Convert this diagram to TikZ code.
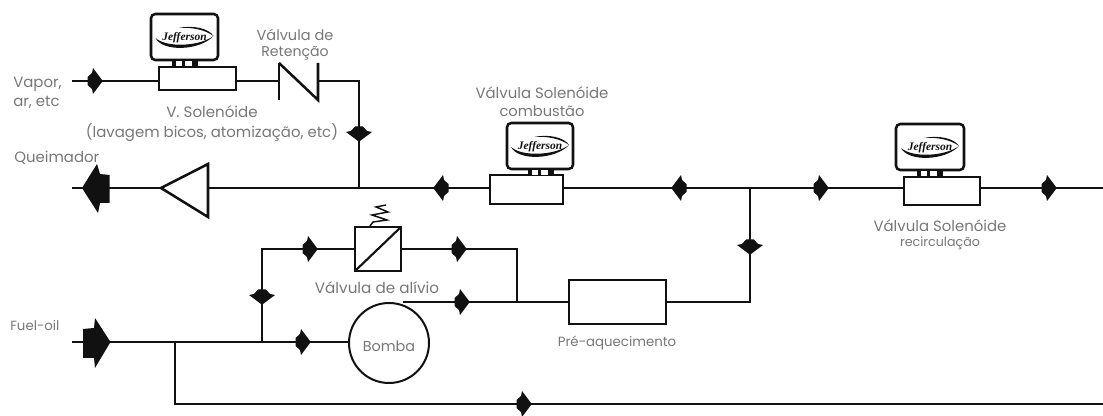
\documentclass[tikz,border=0pt]{standalone}
\usepackage{fontspec}
\setmainfont{Poppins}
\newfontfamily\logofont{Liberation Serif}[BoldItalicFont={* Bold Italic}]
\definecolor{ink}{HTML}{111111}
\definecolor{lab}{HTML}{777777}
\tikzset{
  pipe/.style={draw=ink,line width=1.35pt},
  boxed/.style={draw=ink,line width=1.9pt,fill=white,inner sep=0pt,outer sep=0pt,rectangle},
  monitor/.style={boxed,rounded corners=3.2pt},
  lbl/.style={text=lab,inner sep=0pt,font=\fontsize{#1}{12pt}\selectfont,align=center},
  lbl/.default=11.2pt,
  lbll/.style={lbl=#1,align=left,anchor=west},
  lbll/.default=11.2pt
}
\newcommand{\vmk}[4]{%
  \coordinate (#1) at (#2,#3);
  \fill[ink,shift={(#2,#3)},rotate=#4]
    (-7.5,-4) -- (-3,-8) -- (-2,-13) -- (2.5,-7) -- (7,-1) -- (7,1) -- (2.5,7) -- (-2,13) -- (-3,8) -- (-7.5,4) -- cycle;}
\newcommand{\solv}[7]{%
  \node[boxed,minimum width=#4*0.75pt,minimum height=#5*0.75pt] (#1) at (#2,#3) {};
  \node[monitor,minimum width=#6*0.75pt,minimum height=46*0.75pt] (#1m) at (#7) {};
  \fill[ink] (#1m.south west) ++(21,0) rectangle ++(26,7.5);
  \fill[white] (#1m.south west) ++(24.5,1.2) rectangle ++(6.5,5.2);
  \fill[white] (#1m.south west) ++(34,1.2) rectangle ++(6.5,5.2);
  \node[inner sep=0pt,text=ink,font=\logofont\bfseries\itshape\fontsize{8.6pt}{9pt}\selectfont] (#1l) at ([yshift=-0.5pt]#1m.center) {Jefferson};
  \fill[ink,shift={(#1m.center)}] (-29,1) .. controls (-22,15) and (15,14) .. (29,-1) .. controls (15,9.5) and (-18,11) .. cycle;
  \fill[ink,shift={(#1m.center)}] (-6,-9) .. controls (8,-12) and (24,-9) .. (29,-1) .. controls (21,-7) and (8,-10) .. cycle;}
\begin{document}
\begin{tikzpicture}[x=0.75pt,y=-0.75pt]
\useasboundingbox (0,0) rectangle (1103,416);

\coordinate (vs) at (72,81);
\coordinate (qs) at (72,188);
\coordinate (fs) at (72,342);
\coordinate (mr) at (1103,188);
\coordinate (br) at (1103,404);
\coordinate (j1) at (359,188);
\coordinate (j2) at (750,188);
\coordinate (j3) at (750,302);
\coordinate (j4) at (517,302);
\coordinate (j5) at (262,342);
\coordinate (j6) at (175,342);
\coordinate (j7) at (175,404);
\coordinate (c1) at (262,249);
\coordinate (c2) at (517,249);
\coordinate (c3) at (359,81);
\coordinate (cva) at (279,81);
\coordinate (cvb) at (318,81);
\coordinate (tra) at (161,188);
\coordinate (trb) at (208,188);
\coordinate (pa) at (403,302);
\coordinate (pb) at (666,302);
\coordinate (pc) at (349,342);

\draw[pipe] (vs) -- (cva);
\draw[pipe] (cvb) -- (c3) -- (j1);
\draw[pipe] (qs) -- (tra);
\draw[pipe] (trb) -- (mr);
\draw[pipe] (j2) -- (j3) -- (pb);
\draw[pipe] (pa) -- (j4) -- (pb);
\draw[pipe] (j4) -- (c2) -- (c1) -- (j5);
\draw[pipe] (fs) -- (pc);
\draw[pipe] (j6) -- (j7) -- (br);

\solv{sa}{197.5}{78.5}{77}{23}{67}{184.5,37}
\solv{sb}{526.5}{189.5}{73}{29}{66}{540,146}
\solv{sc}{942}{191}{76}{28}{68}{930,147}

\draw[ink,line width=1.9pt,line join=miter] (279,63) -- (279,100);
\draw[ink,line width=1.9pt,line join=miter] (279,63) -- (318,100) -- (318,63);

\draw[ink,line width=1.9pt,fill=white,line join=miter] (tra) -- (208,164) -- (208,217) -- cycle;

\node[boxed,minimum width=46*0.75pt,minimum height=44*0.75pt] (rv) at (378,249) {};
\draw[ink,line width=1.6pt] (rv.south west) -- (rv.north east);
\draw[ink,line width=1.1pt] (370,226) -- (373,222) -- (387,220) -- (372,215) -- (388,212) -- (376,207) -- (386,205);

\node[boxed,minimum width=97*0.75pt,minimum height=44*0.75pt] (he) at (617.5,302) {};

\node[circle,draw=ink,line width=1.5pt,fill=white,minimum size=80*0.75pt,inner sep=0pt] (bo) at (389,343) {};

\vmk{m1}{95}{81}{0}
\vmk{m2}{359}{134}{-90}
\vmk{m3}{441}{188}{180}
\vmk{m4}{679}{188}{180}
\vmk{m5}{821}{188}{0}
\vmk{m6}{1049}{188}{0}
\vmk{m7}{750}{247}{-90}
\vmk{m8}{310}{249}{0}
\vmk{m9}{459}{249}{0}
\vmk{m10}{462}{302}{0}
\vmk{m11}{262}{297}{-90}
\vmk{m12}{303}{342}{0}
\vmk{m13}{524}{404}{0}

\fill[ink] (82,188) -- (97,164) -- (100,174) -- (109.5,175) -- (109.5,203) -- (100,203) -- (98,213) -- cycle;
\fill[ink] (110.5,342) -- (95,318) -- (94,328) -- (83,329) -- (83,358) -- (94,358) -- (95,368) -- cycle;

\node[lbll=11.2pt] (t1) at (13,84) {Vapor,};
\node[lbll=11.2pt] (t2) at (13,102) {ar, etc};
\node[lbl=10.9pt] (t3) at (295,35) {Válvula de};
\node[lbl=10.6pt] (t4) at (295,53) {Retenção};
\node[lbl=11.3pt] (t5) at (212,112) {V. Solenóide};
\node[lbl=11.2pt] (t6) at (212,133) {(lavagem bicos, atomização, etc)};
\node[lbll=11.2pt] (t7) at (14,158) {Queimador};
\node[lbl=11.2pt] (t8) at (542,93) {Válvula Solenóide};
\node[lbl=11pt] (t9) at (542,111) {combustão};
\node[lbl=11.2pt] (t10) at (940,226) {Válvula Solenóide};
\node[lbl=9.5pt] (t11) at (940,243) {recirculação};
\node[lbl=11.4pt] (t12) at (377,288) {Válvula de alívio};
\node[lbl=10.8pt] (t13) at (389,346) {Bomba};
\node[lbl=10pt] (t14) at (617,343) {Pré-aquecimento};
\node[lbll=10pt] (t15) at (10,325) {Fuel-oil};
\end{tikzpicture}
\end{document}
